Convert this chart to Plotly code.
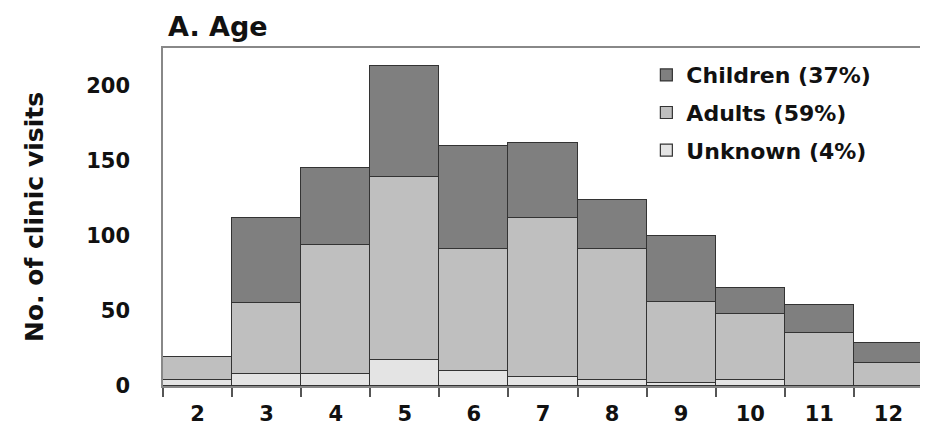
import plotly.graph_objects as go

ages = [2, 3, 4, 5, 6, 7, 8, 9, 10, 11, 12]
unknown = [4, 8, 8, 17, 10, 6, 4, 2, 4, 0, 0]
adults = [15, 47, 86, 122, 81, 106, 87, 54, 44, 35, 15.5]
children = [0.5, 57, 51, 74, 69, 50, 33, 44, 17, 19, 13]
y_ticks = [0, 50, 100, 150, 200]

FONT = "DejaVu Sans, Arial, sans-serif"

fig = go.Figure()
series = [
    ("Unknown (4%)", unknown, "#e4e4e4", 3),
    ("Adults (59%)", adults, "#bfbfbf", 2),
    ("Children (37%)", children, "#7f7f7f", 1),
]
for name, vals, col, rank in series:
    fig.add_trace(go.Bar(
        x=ages, y=vals, name=name, legendgroup=name, legendrank=rank,
        marker=dict(color=col, line=dict(color="#333333", width=1.2)),
    ))

# page body has an 8px margin, so the figure is 920x428 placed at (8,8)
fig.update_layout(
    width=920, height=428,
    barmode="stack", bargap=0,
    plot_bgcolor="white", paper_bgcolor="white",
    margin=dict(l=155, r=3, t=40, b=50),
    font=dict(family=FONT, size=21, color="#111111", weight="bold"),
    title=dict(text="A. Age", x=160/920, xanchor="left", xref="container",
               y=1 - 19/428, yref="container", yanchor="middle",
               font=dict(family=FONT, size=27, weight="bold", color="#111111")),
    showlegend=True,
    legend=dict(x=0.636, y=0.982, xanchor="left", yanchor="top",
                traceorder="grouped", tracegroupgap=6,
                bgcolor="rgba(0,0,0,0)",
                font=dict(family=FONT, size=22, weight="bold", color="#111111")),
)
fig.update_xaxes(
    range=[1.5, 12.5], tickvals=ages, ticks="", showline=True, mirror=True,
    linecolor="#888888", linewidth=1.5, ticklabelstandoff=8,
    tickfont=dict(family=FONT, size=21, weight="bold"),
    minor=dict(tickvals=[a + 0.5 for a in [1] + ages], ticks="outside",
               ticklen=9, tickcolor="#555555", tickwidth=1.5),
    showgrid=False, zeroline=False,
)
fig.update_yaxes(
    range=[0, 225], tickvals=y_ticks, ticks="", showline=True, mirror=True,
    linecolor="#888888", linewidth=1.5, ticklabelstandoff=27,
    tickfont=dict(family=FONT, size=21, weight="bold"),
    title=dict(text="No. of clinic visits", standoff=35,
               font=dict(family=FONT, size=25, weight="bold")),
    showgrid=False, zeroline=False,
)

fig.write_html("out.html")
